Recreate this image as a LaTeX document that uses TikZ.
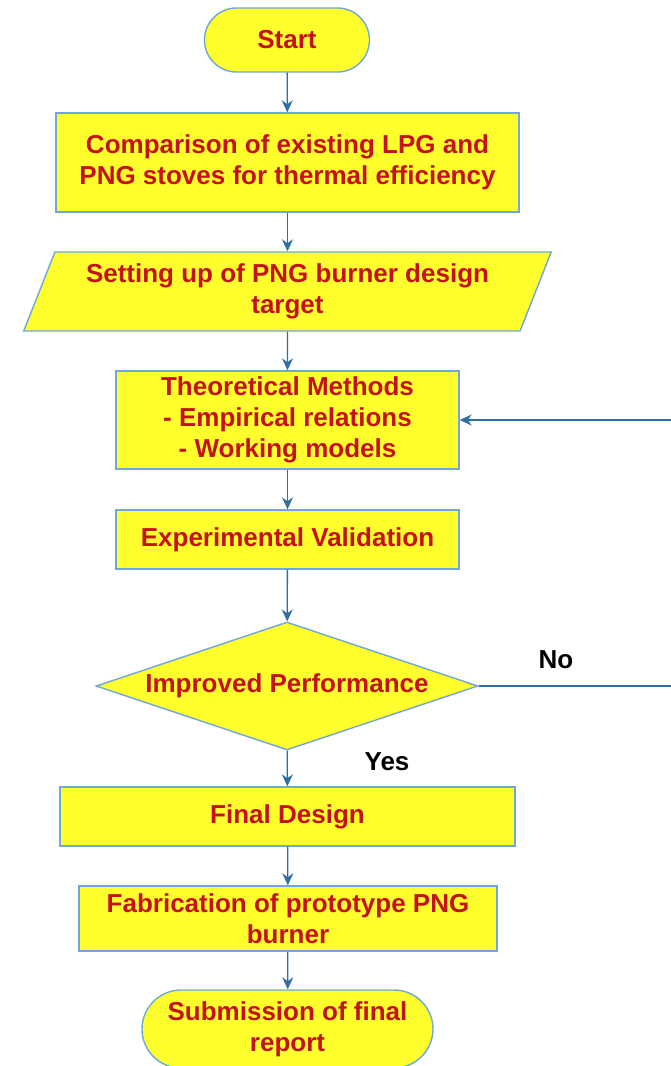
\documentclass[tikz,border=0pt]{standalone}
\usepackage{fontspec}
\setmainfont{Liberation Sans}
\usetikzlibrary{shapes.geometric,shapes.misc,arrows.meta}
\definecolor{boxfill}{HTML}{FFFF2E}
\definecolor{boxline}{HTML}{6FA8D8}
\definecolor{boxtext}{HTML}{C4121A}
\definecolor{flow}{HTML}{2F6FA7}
\tikzset{
  base/.style={draw=boxline, line width=1.4pt, fill=boxfill, text=boxtext,
    font=\fontsize{26}{31}\selectfont\bfseries, align=center, inner sep=0pt},
  stepbox/.style={base, rectangle},
  term/.style={base, rounded rectangle},
  io/.style={base, trapezium, trapezium left angle=64, trapezium right angle=116,
    trapezium stretches=true},
  decide/.style={base, diamond},
  flowline/.style={draw=flow, line width=1.3pt, -{Stealth[length=12pt,width=11pt]}},
  lbl/.style={font=\fontsize{26}{30}\selectfont\bfseries, text=black}
}
\begin{document}
\begin{tikzpicture}[x=1pt,y=-1pt]
\useasboundingbox (0,0) rectangle (671,1066);

\node[term, minimum width=165, minimum height=64] (start) at (287,40) {Start};
\node[stepbox, minimum width=463, minimum height=99] (compare) at (287.5,162.5)
  {Comparison of existing LPG and\\PNG stoves for thermal efficiency};
\node[io, minimum width=529, minimum height=79] (target) at (287.5,291.5)
  {Setting up of PNG burner design\\target};
\node[stepbox, minimum width=343, minimum height=98] (theory) at (287.5,420)
  {Theoretical Methods\\- Empirical relations\\- Working models};
\node[stepbox, minimum width=343, minimum height=59] (valid) at (287.5,539.5)
  {Experimental Validation};
\node[decide, minimum width=382, minimum height=128, shape aspect=3] (perf) at (287,686)
  {Improved Performance};
\node[stepbox, minimum width=455, minimum height=59] (final) at (287.5,816.5)
  {Final Design};
\node[stepbox, minimum width=418, minimum height=65] (fab) at (288,918.5)
  {Fabrication of prototype PNG\\burner};
\node[term, minimum width=291, minimum height=78] (report) at (287.5,1029)
  {Submission of final\\report};

\node[lbl] (no) at (556,660) {No};
\node[lbl] (yes) at (387,762) {Yes};

\draw[flowline] (start) -- (compare);
\draw[flowline] (compare) -- (target);
\draw[flowline] (target) -- (theory);
\draw[flowline] (theory) -- (valid);
\draw[flowline] (valid) -- (perf);
\draw[flowline] (perf) -- (final);
\draw[flowline] (final) -- (fab);
\draw[flowline] (fab) -- (report);

% feedback loop runs past the right border of the page
\coordinate (loopcorner) at (700,686);
\begin{scope}
  \clip (0,0) rectangle (671,1066);
  \draw[flowline] (perf.east) -- (loopcorner) |- (theory.east);
\end{scope}
\end{tikzpicture}
\end{document}
